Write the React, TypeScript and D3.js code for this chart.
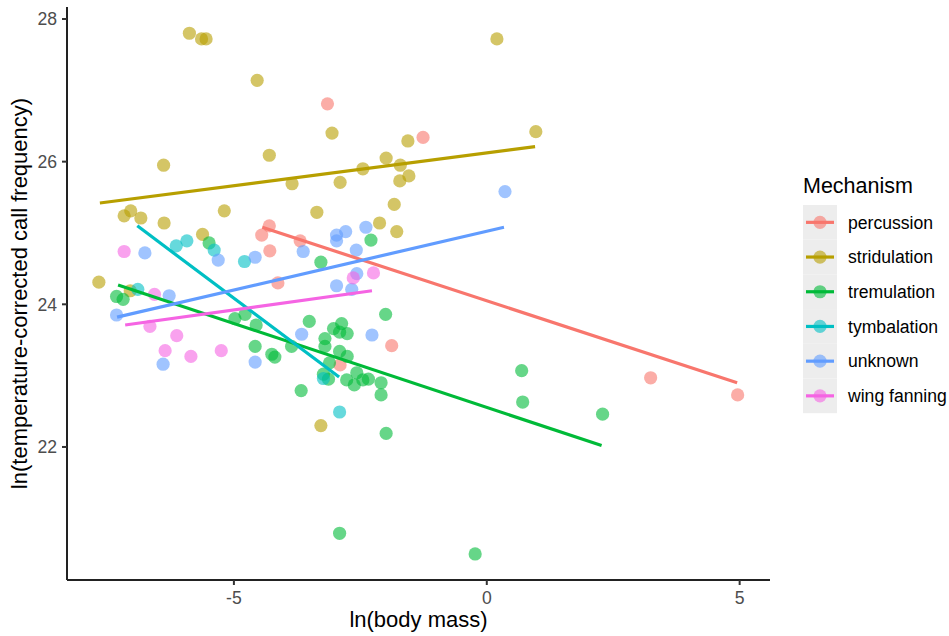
import React from "react";
import * as d3 from "d3";

// ---- data ----
const mechanisms = ["percussion", "stridulation", "tremulation", "tymbalation", "unknown", "wing fanning"];
const colors = ["#F8766D", "#B79F00", "#00BA38", "#00BFC4", "#619CFF", "#F564E3"];

const percussionX = [-3.15, -1.26, -4.30, -4.45, -4.29, -3.69, -4.13, -2.90, -1.88, 3.24, 4.96];
const percussionY = [26.81, 26.34, 25.10, 24.97, 24.75, 24.89, 24.30, 23.15, 23.42, 22.97, 22.73];

const stridulationX = [-5.88, -5.64, -5.55, -4.54, -4.30, -6.39, -3.85, -7.17, -7.04, -6.84, -6.38, -5.19, -3.36, -5.62, -7.67, -7.05, 0.20, -3.06, 0.97, -1.56, -1.99, -1.71, -2.45, -2.90, -1.72, -1.54, -1.83, -2.12, -1.78, -3.28];
const stridulationY = [27.80, 27.72, 27.72, 27.14, 26.09, 25.95, 25.69, 25.24, 25.31, 25.21, 25.14, 25.31, 25.29, 24.98, 24.31, 24.19, 27.72, 26.40, 26.42, 26.29, 26.05, 25.95, 25.90, 25.71, 25.73, 25.80, 25.40, 25.14, 25.02, 22.30];

const tremulationX = [-7.32, -7.19, -5.49, -3.28, -2.29, -2.00, -4.98, -4.78, -4.56, -4.58, -4.25, -4.19, -3.86, -3.51, -3.67, -3.03, -2.87, -2.91, -2.76, -3.20, -3.20, -2.91, -2.76, -3.11, -3.23, -3.13, -2.77, -2.62, -2.57, -2.45, -2.34, -2.09, -2.09, -1.99, -2.91, -0.23, 0.69, 0.71, 2.29];
const tremulationY = [24.11, 24.07, 24.86, 24.59, 24.90, 23.86, 23.80, 23.86, 23.71, 23.41, 23.30, 23.26, 23.41, 23.76, 22.79, 23.66, 23.73, 23.61, 23.59, 23.52, 23.41, 23.34, 23.27, 23.18, 23.02, 22.95, 22.94, 22.87, 23.04, 22.94, 22.95, 22.90, 22.73, 22.19, 20.79, 20.50, 23.07, 22.63, 22.46];

const tymbalationX = [-6.14, -5.93, -5.39, -4.79, -6.90, -3.23, -2.91];
const tymbalationY = [24.82, 24.89, 24.76, 24.60, 24.21, 22.96, 22.49];

const unknownX = [-6.76, -5.31, -4.58, -3.63, -6.28, -7.32, -2.97, -2.97, -2.79, -2.39, -2.58, -2.57, -2.97, -2.67, 0.36, -3.66, -6.40, -4.58, -2.27];
const unknownY = [24.72, 24.62, 24.66, 24.74, 24.12, 23.85, 24.97, 24.89, 25.02, 25.08, 24.76, 24.43, 24.26, 24.21, 25.58, 23.58, 23.16, 23.19, 23.57];

const wingX = [-7.17, -6.57, -2.64, -2.24, -6.66, -6.13, -6.36, -5.85, -5.25];
const wingY = [24.74, 24.14, 24.37, 24.44, 23.69, 23.56, 23.35, 23.27, 23.35];

// fitted line endpoints per mechanism
const fitX0 = [-4.44, -7.65, -7.29, -6.91, -7.31, -7.15];
const fitY0 = [25.08, 25.42, 24.27, 25.10, 23.82, 23.71];
const fitX1 = [4.95, 0.955, 2.27, -2.92, 0.34, -2.27];
const fitY1 = [22.90, 26.21, 22.02, 22.98, 25.08, 24.19];

const xTicks = [-5, 0, 5];
const yTicks = [22, 24, 26, 28];

const seriesX = [percussionX, stridulationX, tremulationX, tymbalationX, unknownX, wingX];
const seriesY = [percussionY, stridulationY, tremulationY, tymbalationY, unknownY, wingY];

// ---- layout ----
const W = 949;
const H = 636;
const left = 67;
const right = 770;
const top = 7;
const bottom = 580;
const font = "'Liberation Sans', Arial, Helvetica, sans-serif";

export default function App() {
  const x = d3.scaleLinear().domain([-8.3, 5.6]).range([left, right]);
  const y = d3.scaleLinear().domain([20.135, 28.168]).range([bottom, top]);
  const line = d3
    .line<[number, number]>()
    .x((d) => x(d[0]))
    .y((d) => y(d[1]));

  const legendX = 803;
  const keyTop = 205;
  const keyH = 34.7;
  const keyW = 34;

  return (
    <svg
      width={W}
      height={H}
      style={{ position: "absolute", left: 0, top: 0, background: "#fff" }}
      fontFamily={font}
    >
      <rect x={0} y={0} width={W} height={H} fill="#fff" />
      {/* points */}
      {seriesX.map((xs, i) => (
        <g key={"p" + i}>
          {xs.map((xv, j) => (
            <circle key={j} cx={x(xv)} cy={y(seriesY[i][j])} r={6.6} fill={colors[i]} fillOpacity={0.6} />
          ))}
        </g>
      ))}
      {/* fitted lines */}
      {mechanisms.map((m, i) => (
        <path
          key={"l" + m}
          d={line([
            [fitX0[i], fitY0[i]],
            [fitX1[i], fitY1[i]],
          ]) || ""}
          stroke={colors[i]}
          strokeWidth={3.2}
          fill="none"
        />
      ))}
      {/* axes */}
      <line x1={left} x2={right} y1={bottom} y2={bottom} stroke="#222" strokeWidth={2} />
      <line x1={left} x2={left} y1={top} y2={bottom} stroke="#222" strokeWidth={2} />
      {xTicks.map((t) => (
        <g key={"xt" + t}>
          <line x1={x(t)} x2={x(t)} y1={bottom} y2={bottom + 5} stroke="#333" strokeWidth={2} />
          <text x={x(t)} y={604} textAnchor="middle" fontSize={17.6} fill="#4D4D4D">
            {t}
          </text>
        </g>
      ))}
      {yTicks.map((t) => (
        <g key={"yt" + t}>
          <line x1={left - 5} x2={left} y1={y(t)} y2={y(t)} stroke="#333" strokeWidth={2} />
          <text x={57} y={y(t)} dy="0.36em" textAnchor="end" fontSize={17.6} fill="#4D4D4D">
            {t}
          </text>
        </g>
      ))}
      <text x={(left + right) / 2} y={627} textAnchor="middle" fontSize={22} fill="#000">
        ln(body mass)
      </text>
      <text
        transform={`translate(27, ${(top + bottom) / 2}) rotate(-90)`}
        textAnchor="middle"
        fontSize={22}
        fill="#000"
      >
        ln(temperature-corrected call frequency)
      </text>
      {/* legend */}
      <text x={legendX} y={193} fontSize={21.5} fill="#000">
        Mechanism
      </text>
      {mechanisms.map((m, i) => {
        const cy = keyTop + keyH * i + keyH / 2;
        return (
          <g key={"lg" + m}>
            <rect x={legendX} y={keyTop + keyH * i} width={keyW} height={keyH} fill="#EDEDED" />
            <circle cx={legendX + keyW / 2} cy={cy} r={6.6} fill={colors[i]} fillOpacity={0.6} />
            <line x1={legendX + 3} x2={legendX + keyW - 3} y1={cy} y2={cy} stroke={colors[i]} strokeWidth={3.2} />
            <text x={848} y={cy} dy="0.36em" fontSize={17.6} fill="#000">
              {m}
            </text>
          </g>
        );
      })}
    </svg>
  );
}
